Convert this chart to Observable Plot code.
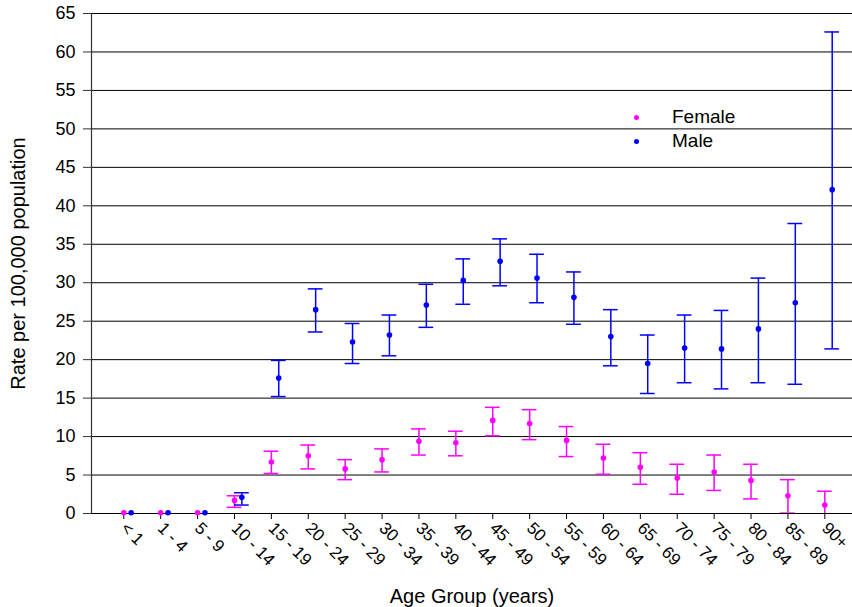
<!DOCTYPE html>
<html>
<head>
<meta charset="utf-8">
<script src="https://cdn.jsdelivr.net/npm/d3@7"></script>
<script src="https://cdn.jsdelivr.net/npm/@observablehq/plot@0.6"></script>
<style>
  html, body { margin: 0; padding: 0; background: #fff; }
  #wrap { position: relative; width: 852px; height: 607px; font-family: "Liberation Sans", Arial, sans-serif; }
  #legend { position: absolute; left: 634px; top: 105px; font-size: 19px; line-height: 24px; color: #000; }
  #legend .item { display: flex; align-items: center; }
  #legend .sw { width: 5px; height: 5px; border-radius: 50%; margin-right: 33px; }
</style>
</head>
<body>
<div id="wrap"><div id="legend"></div></div>
<script>
const groups = ["< 1","1 - 4","5 - 9","10 - 14","15 - 19","20 - 24","25 - 29","30 - 34","35 - 39","40 - 44","45 - 49","50 - 54","55 - 59","60 - 64","65 - 69","70 - 74","75 - 79","80 - 84","85 - 89","90+"];

const femaleRate = [0.1,0.1,0.1,1.7,6.7,7.5,5.8,7.0,9.4,9.2,12.1,11.7,9.5,7.2,6.0,4.6,5.4,4.3,2.3,1.1];
const femaleLow  = [null,null,null,0.8,5.2,5.8,4.4,5.4,7.6,7.5,10.1,9.6,7.4,5.1,3.8,2.5,3.0,1.9,0.05,-0.6];
const femaleHigh = [null,null,null,2.3,8.1,8.9,7.0,8.4,11.0,10.7,13.8,13.5,11.3,9.0,7.9,6.4,7.6,6.4,4.4,2.9];

const maleRate = [0.1,0.1,0.1,2.1,17.6,26.5,22.3,23.2,27.1,30.3,32.8,30.6,28.1,23.0,19.5,21.5,21.4,24.0,27.4,42.1];
const maleLow  = [null,null,null,1.1,15.2,23.6,19.5,20.5,24.2,27.2,29.6,27.4,24.6,19.2,15.6,17.0,16.2,17.0,16.8,21.4];
const maleHigh = [null,null,null,2.7,19.9,29.2,24.7,25.8,29.8,33.1,35.7,33.7,31.4,26.5,23.2,25.8,26.4,30.6,37.7,62.6];

const yTicks = d3.range(0, 66, 5);
const seriesNames = ["Female", "Male"];
const seriesColors = ["#FF00FF", "#0000FF"];
const seriesShift = [0, 0.2];
const capHalf = 0.2;

const rows = [];
groups.forEach((g, i) => {
  rows.push({sex: "Female", x: i + 1 + seriesShift[0], rate: femaleRate[i], low: femaleLow[i], high: femaleHigh[i]});
  rows.push({sex: "Male", x: i + 1 + seriesShift[1], rate: maleRate[i], low: maleLow[i], high: maleHigh[i]});
});
const bars = rows.filter(d => d.low != null);

const chart = Plot.plot({
  width: 852,
  height: 607,
  marginLeft: 91,
  marginRight: 0,
  marginTop: 13,
  marginBottom: 94,
  style: {fontFamily: "Liberation Sans, Arial, sans-serif", fontSize: "17px", color: "#000", background: "#fff"},
  x: {domain: [0.125, 20.75]},
  y: {domain: [0, 65]},
  color: {domain: seriesNames, range: seriesColors},
  marks: [
    Plot.gridY(yTicks, {stroke: "#000", strokeOpacity: 1, strokeWidth: 1}),
    Plot.axisY({ticks: yTicks, tickSize: 8, tickPadding: 8, fontSize: 18, stroke: "#333", label: null}),
    Plot.axisY({ticks: [], tickSize: 0, fontSize: 20,
      label: "Rate per 100,000 population", labelAnchor: "center", labelArrow: "none", labelOffset: 81}),
    Plot.axisX({ticks: d3.range(1, 21), tickFormat: i => groups[i - 1], tickRotate: 45, tickSize: 6, fontSize: 17,
      stroke: "#000", label: null}),
    Plot.axisX({ticks: [], tickSize: 0, fontSize: 20,
      label: "Age Group (years)", labelAnchor: "center", labelArrow: "none", labelOffset: 89}),
    Plot.ruleX([0.125], {y1: 0, y2: 65, stroke: "#333", strokeWidth: 1.2}),
    Plot.ruleY([0], {stroke: "#000", strokeWidth: 1.2}),
    Plot.ruleX(bars, {x: "x", y1: "low", y2: "high", stroke: "sex", strokeWidth: 1.5, clip: true}),
    Plot.ruleY(bars, {y: "high", x1: d => d.x - capHalf, x2: d => d.x + capHalf, stroke: "sex", strokeWidth: 1.5, clip: true}),
    Plot.ruleY(bars, {y: "low", x1: d => d.x - capHalf, x2: d => d.x + capHalf, stroke: "sex", strokeWidth: 1.5, clip: true}),
    Plot.dot(rows, {x: "x", y: "rate", fill: "sex", r: 2.8})
  ]
});
document.getElementById("wrap").prepend(chart);

const legend = d3.select("#legend");
seriesNames.forEach((name, k) => {
  const it = legend.append("div").attr("class", "item");
  it.append("span").attr("class", "sw").style("background", seriesColors[k]);
  it.append("span").text(name);
});
</script>
</body>
</html>
